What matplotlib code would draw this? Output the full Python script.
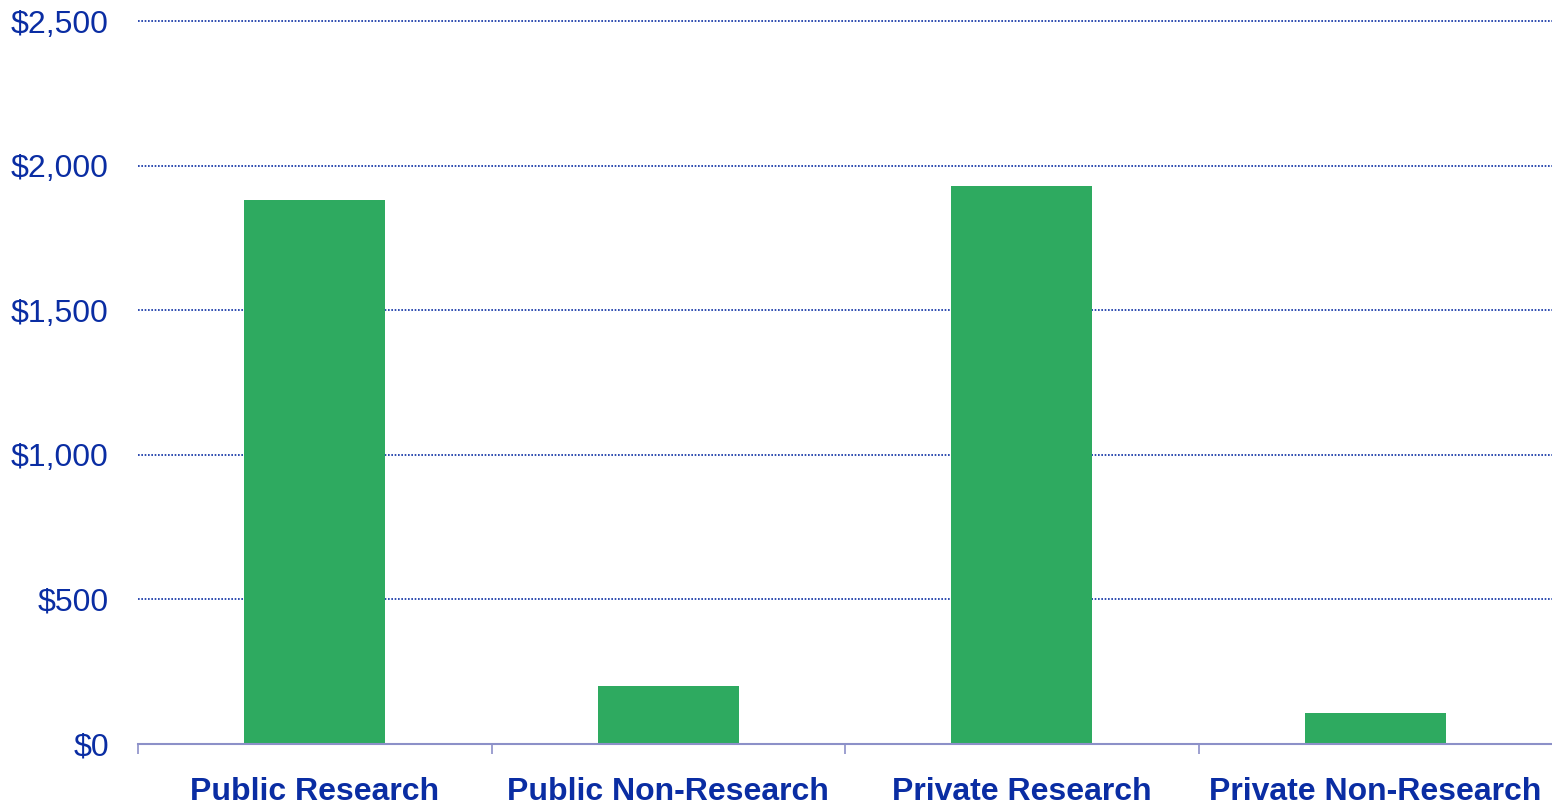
import matplotlib.pyplot as plt
from matplotlib.ticker import FuncFormatter

categories = ['Public Research', 'Public Non-Research', 'Private Research', 'Private Non-Research']
values = [1881, 200, 1929, 107]

text_blue = '#0A2DA3'
bar_green = '#2EAA60'
axis_col = '#8C90C8'

plt.rcParams['font.family'] = ['Liberation Sans', 'DejaVu Sans']

fig = plt.figure(figsize=(15.52, 8.06), dpi=100)
ax = fig.add_axes([138 / 1552, 62 / 806, 1 - 138 / 1552, 723 / 806])

x = range(len(categories))
ax.bar(x, values, width=0.4, color=bar_green, zorder=3)

ax.set_xlim(-0.5, len(categories) - 0.5)
ax.set_ylim(0, 2500)
ax.set_yticks([0, 500, 1000, 1500, 2000, 2500])
ax.yaxis.set_major_formatter(FuncFormatter(lambda v, p: f'${v:,.0f}'))
ax.tick_params(axis='y', length=0, pad=21, labelsize=23, labelcolor=text_blue)

# category names centred, separator ticks between groups
ax.set_xticks(list(x))
ax.set_xticklabels(categories, fontsize=23, fontweight='bold', color=text_blue)
ax.tick_params(axis='x', length=0, pad=24)
ax.set_xticks([i - 0.5 for i in range(len(categories))], minor=True)
ax.tick_params(axis='x', which='minor', length=7, width=1.2, color=axis_col, direction='out')

for s in ['left', 'right', 'top']:
    ax.spines[s].set_visible(False)
ax.spines['bottom'].set_color(axis_col)
ax.spines['bottom'].set_linewidth(1.5)
ax.spines['bottom'].set_zorder(4)

for v in [500, 1000, 1500, 2000, 2500]:
    ax.axhline(v, color=text_blue, linestyle=(0, (1, 1)), linewidth=1.2, zorder=1, clip_on=False)

fig.savefig('out.png', dpi=100)
